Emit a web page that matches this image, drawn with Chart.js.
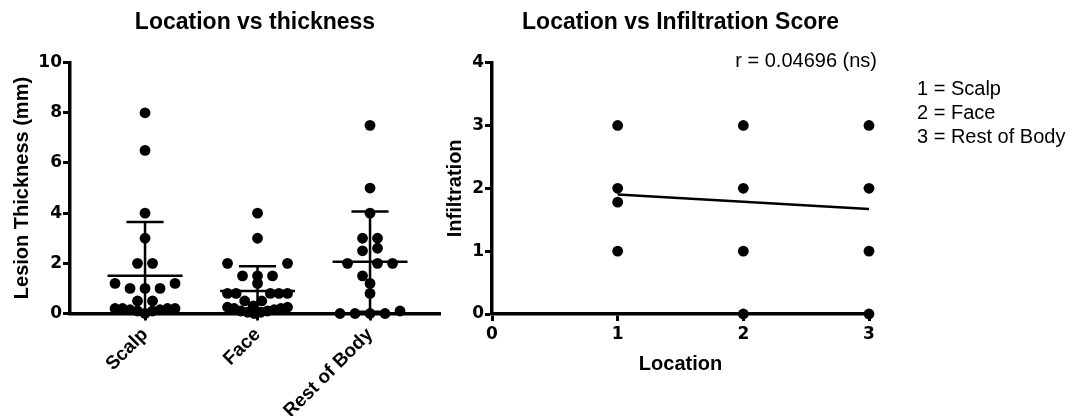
<!DOCTYPE html>
<html>
<head>
<meta charset="utf-8">
<script src="https://cdn.jsdelivr.net/npm/chart.js@4.4.1/dist/chart.umd.min.js"></script>
<style>
  body { margin: 0; background: #fff; }
  #wrap { position: relative; width: 1071px; height: 416px; font-family: "Liberation Sans", Arial, sans-serif; }
  canvas { position: absolute; top: 0; }
  #left { left: 0; }
  #right { left: 440px; }
  .note { position: absolute; font-size: 20px; line-height: 24px; color: #000; white-space: nowrap; }
</style>
</head>
<body>
<div id="wrap">
  <canvas id="left" width="450" height="416"></canvas>
  <canvas id="right" width="631" height="416"></canvas>
  <div class="note" id="rText" style="right:194px; top:48px;"></div>
  <div class="note" id="key" style="left:917px; top:76px;"></div>
</div>
<script>
// left panel: lesion thickness (mm) by location
const categories = ["Scalp", "Face", "Rest of Body"];
const scalpThickness = [8, 6.5, 4, 3, 2, 2, 1.2, 1.2, 1, 1, 1, 0.5, 0.5,
  0, 0.1, 0.1, 0.15, 0.15, 0.2, 0.2, 0.2, 0.2];
const faceThickness = [4, 3, 2, 2, 1.5, 1.5, 1.5, 1.2, 0.8, 0.8, 0.8, 0.8, 0.8,
  0, 0.05, 0.05, 0.1, 0.1, 0.15, 0.2, 0.2, 0.25, 0.25, 0.3, 0.5, 0.5];
const restThickness = [7.5, 5, 4, 3, 3, 2.6, 2.5, 2, 2, 2, 1.5, 1.2, 0.8, 0.1, 0, 0, 0, 0];

// right panel: location vs infiltration score
const locationValues = [1, 1, 1, 1, 2, 2, 2, 2, 3, 3, 3, 3];
const infiltrationValues = [3, 2, 1.78, 1, 3, 2, 1, 0, 3, 2, 1, 0];
const fitLocation = [1, 3];
const fitInfiltration = [1.9, 1.67];
const rLabel = "r = 0.04696 (ns)";

const FONT = "'Liberation Sans', Arial, sans-serif";
const NUM_FONT = { family: "'DejaVu Sans', Verdana, sans-serif", size: 17, weight: "bold" };

// scatter-dot layout: rows of close values, spread sideways
const PX_PER_CAT = 112.5, DOT_GAP = 15, MAX_HALF = 30, BIN = 0.6;
function swarm(values, center) {
  const bins = {};
  values.forEach((v) => {
    const k = Math.round(v / BIN);
    (bins[k] = bins[k] || []).push(v);
  });
  const pts = [];
  Object.values(bins).forEach((group) => {
    group.sort((a, b) => a - b);
    const n = group.length;
    const gap = n > 1 ? Math.min(DOT_GAP, (2 * MAX_HALF) / (n - 1)) : 0;
    const slots = [];
    for (let i = 0; i < n; i++) slots.push((i - (n - 1) / 2) * gap);
    slots.sort((a, b) => Math.abs(a) - Math.abs(b) || a - b);
    group.forEach((v, i) => pts.push({ x: center + slots[i] / PX_PER_CAT, y: v }));
  });
  return pts;
}

function mean(a) {
  return a.reduce((s, v) => s + v, 0) / a.length;
}
function sd(a) {
  const m = mean(a);
  return Math.sqrt(a.reduce((s, v) => s + (v - m) ** 2, 0) / (a.length - 1));
}

const MEAN_HALF = 0.333, CAP_HALF = 0.165;
const groups = [scalpThickness, faceThickness, restThickness];
const leftSets = [];
groups.forEach((vals, i) => {
  leftSets.push({
    data: swarm(vals, i),
    pointRadius: 5.4,
    pointBackgroundColor: "#000",
    pointBorderWidth: 0,
    clip: false,
  });
});
groups.forEach((vals, i) => {
  const m = mean(vals), s = sd(vals);
  const seg = (x1, y1, x2, y2) =>
    leftSets.push({
      data: [{ x: x1, y: y1 }, { x: x2, y: y2 }],
      showLine: true,
      pointRadius: 0,
      borderColor: "#000",
      borderWidth: 2.5,
    });
  seg(i - MEAN_HALF, m, i + MEAN_HALF, m);
  seg(i, m - s, i, m + s);
  seg(i - CAP_HALF, m + s, i + CAP_HALF, m + s);
  seg(i - CAP_HALF, m - s, i + CAP_HALF, m - s);
});

function axisGrid() {
  return {
    drawOnChartArea: false,
    drawTicks: true,
    tickLength: 7,
    tickWidth: 3,
    tickColor: "#000",
    color: "#000",
  };
}
const border = { display: true, color: "#000", width: 3.5 };

function titleOpts(text) {
  return {
    display: true,
    fullSize: false,
    text: text,
    color: "#000",
    font: { family: FONT, size: 23, weight: "bold" },
    padding: { top: 9, bottom: 26 },
  };
}

new Chart(document.getElementById("left"), {
  type: "scatter",
  data: { datasets: leftSets },
  options: {
    responsive: false,
    animation: false,
    events: [],
    layout: { padding: { left: 0, right: 10, top: 0, bottom: 0 } },
    plugins: {
      legend: { display: false },
      tooltip: { enabled: false },
      title: titleOpts("Location vs thickness"),
    },
    scales: {
      x: {
        type: "linear",
        min: -0.667,
        max: 2.622,
        border: border,
        grid: axisGrid(),
        afterBuildTicks: (scale) => {
          scale.ticks = categories.map((c, i) => ({ value: i }));
        },
        afterFit: (scale) => {
          scale.height = 102.5;
          scale.paddingLeft = 0;
          scale.paddingRight = 0;
        },
        ticks: {
          color: "#000",
          font: { family: FONT, size: 19, weight: "bold" },
          minRotation: 45,
          maxRotation: 45,
          padding: 3,
          callback: (v) => categories[v],
        },
      },
      y: {
        min: 0,
        max: 10,
        border: border,
        grid: axisGrid(),
        afterFit: (scale) => {
          scale.width = 70;
        },
        ticks: { stepSize: 2, color: "#000", font: NUM_FONT, padding: 1 },
        title: {
          display: true,
          text: "Lesion Thickness (mm)",
          color: "#000",
          font: { family: FONT, size: 20, weight: "bold" },
          padding: { top: 10, bottom: 0 },
        },
      },
    },
  },
});

new Chart(document.getElementById("right"), {
  type: "scatter",
  data: {
    datasets: [
      {
        data: locationValues.map((x, i) => ({ x: x, y: infiltrationValues[i] })),
        pointRadius: 5.4,
        pointBackgroundColor: "#000",
        pointBorderWidth: 0,
        clip: false,
      },
      {
        data: fitLocation.map((x, i) => ({ x: x, y: fitInfiltration[i] })),
        showLine: true,
        pointRadius: 0,
        borderColor: "#000",
        borderWidth: 2.5,
      },
    ],
  },
  options: {
    responsive: false,
    animation: false,
    events: [],
    layout: { padding: { left: 0, right: 202, top: 0, bottom: 0 } },
    plugins: {
      legend: { display: false },
      tooltip: { enabled: false },
      title: titleOpts("Location vs Infiltration Score"),
    },
    scales: {
      x: {
        min: 0,
        max: 3,
        border: border,
        grid: axisGrid(),
        afterFit: (scale) => {
          scale.height = 102;
        },
        ticks: { stepSize: 1, color: "#000", font: NUM_FONT, padding: 3 },
        title: {
          display: true,
          text: "Location",
          color: "#000",
          font: { family: FONT, size: 20, weight: "bold" },
          padding: { top: 0, bottom: 40 },
        },
      },
      y: {
        min: 0,
        max: 4,
        border: border,
        grid: axisGrid(),
        afterFit: (scale) => {
          scale.width = 52;
        },
        ticks: { stepSize: 1, color: "#000", font: NUM_FONT, padding: 1 },
        title: {
          display: true,
          text: "Infiltration",
          color: "#000",
          font: { family: FONT, size: 20, weight: "bold" },
          padding: { top: 3, bottom: 0 },
        },
      },
    },
  },
});

document.getElementById("rText").textContent = rLabel;
document.getElementById("key").innerHTML = categories
  .map((c, i) => `${i + 1} = ${c}`)
  .join("<br>");
</script>
</body>
</html>
